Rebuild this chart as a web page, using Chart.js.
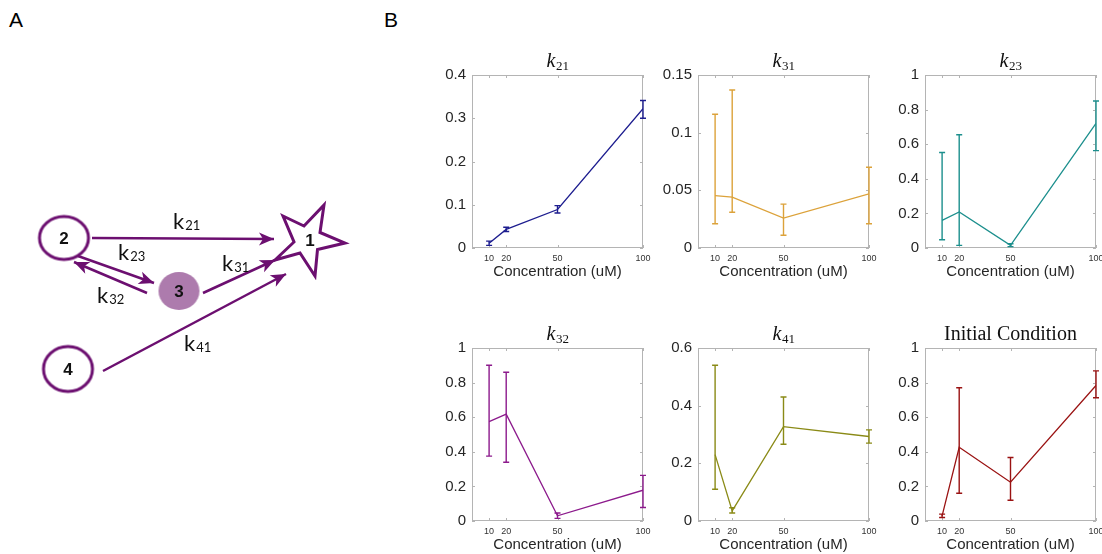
<!DOCTYPE html>
<html>
<head>
<meta charset="utf-8">
<script src="https://cdn.jsdelivr.net/npm/chart.js@4.4.1/dist/chart.umd.min.js"></script>
<style>
  body { margin: 0; width: 1102px; height: 554px; overflow: hidden; background: #fff; position: relative; }
  canvas { position: absolute; }
  .panel-letter { position: absolute; font: 21px "Liberation Sans", Arial, sans-serif; color: #000; }
</style>
</head>
<body>
<div class="panel-letter" style="left:9px;top:8px">A</div>
<div class="panel-letter" style="left:384px;top:8px">B</div>
<canvas id="diagram" width="380" height="554" style="left:0;top:0"></canvas>
<canvas id="c0"></canvas>
<canvas id="c1"></canvas>
<canvas id="c2"></canvas>
<canvas id="c3"></canvas>
<canvas id="c4"></canvas>
<canvas id="c5"></canvas>
<script>
// ---- data ----
const conc = [10, 20, 50, 100];
const xTicks = [10, 20, 50, 100];

const k21 = [0.011, 0.043, 0.089, 0.322];
const k21Low = [0.006, 0.038, 0.081, 0.300];
const k21High = [0.016, 0.048, 0.098, 0.341];

const k31 = [0.0455, 0.0441, 0.026, 0.047];
const k31Low = [0.021, 0.031, 0.011, 0.021];
const k31High = [0.116, 0.137, 0.038, 0.070];

const k23 = [0.16, 0.208, 0.015, 0.72];
const k23Low = [0.048, 0.015, 0.008, 0.563];
const k23High = [0.552, 0.655, 0.025, 0.85];

const k32 = [0.574, 0.618, 0.03, 0.178];
const k32Low = [0.375, 0.34, 0.015, 0.078];
const k32High = [0.9, 0.86, 0.046, 0.264];

const k41 = [0.23, 0.035, 0.327, 0.293];
const k41Low = [0.11, 0.028, 0.266, 0.27];
const k41High = [0.54, 0.046, 0.43, 0.316];

const initCond = [0.03, 0.426, 0.224, 0.783];
const initLow = [0.02, 0.16, 0.12, 0.712];
const initHigh = [0.04, 0.77, 0.367, 0.868];

const ticksK21 = [0, 0.1, 0.2, 0.3, 0.4];
const ticksK31 = [0, 0.05, 0.1, 0.15];
const ticksUnit = [0, 0.2, 0.4, 0.6, 0.8, 1];
const ticksK41 = [0, 0.2, 0.4, 0.6];

const titles = ['k21', 'k31', 'k23', 'k32', 'k41', 'Initial Condition'];

// diagram (panel A)
const nodeNames = ['2', '3', '4', '1'];
const nodeX = [64, 179, 68, 310];
const nodeY = [238, 291, 369, 240];
const edgeNames = ['21', '23', '32', '31', '41'];
const edgeFromX = [92, 78, 147, 203, 103];
const edgeFromY = [238, 256, 293, 293, 371];
const edgeToX = [274, 154, 74, 275, 286];
const edgeToY = [239, 283, 262, 260, 274];
const edgeLabelX = [173, 118, 97, 222, 184];
const edgeLabelY = [229, 260, 303, 271, 351];

// ---- small charts ----
const panels = [
  { vals: k21, lo: k21Low, hi: k21High, yMax: 0.4, yTicks: ticksK21, color: '#1d1d8f', left: 472, top: 75 },
  { vals: k31, lo: k31Low, hi: k31High, yMax: 0.15, yTicks: ticksK31, color: '#dca23a', left: 698, top: 75 },
  { vals: k23, lo: k23Low, hi: k23High, yMax: 1, yTicks: ticksUnit, color: '#1c8f8d', left: 925, top: 75 },
  { vals: k32, lo: k32Low, hi: k32High, yMax: 1, yTicks: ticksUnit, color: '#8c1a8c', left: 472, top: 348 },
  { vals: k41, lo: k41Low, hi: k41High, yMax: 0.6, yTicks: ticksK41, color: '#8a8a16', left: 698, top: 348 },
  { vals: initCond, lo: initLow, hi: initHigh, yMax: 1, yTicks: ticksUnit, color: '#9a1212', left: 925, top: 348 }
];

const plotW = 171, plotH = 173, axisW = 50, padTop = 40, padRight = 16, axisH = 36;

// box round the plot with small inward ticks on all sides
const frame = {
  id: 'frame',
  beforeDatasetsDraw(chart) {
    const { ctx, chartArea: a, scales: { x, y } } = chart;
    ctx.save();
    ctx.strokeStyle = '#b4b4b4';
    ctx.lineWidth = 1;
    ctx.strokeRect(Math.round(a.left) + 0.5, Math.round(a.top) + 0.5, Math.round(a.width) - 1, Math.round(a.height) - 1);
    ctx.beginPath();
    x.ticks.forEach(t => {
      const px = Math.round(x.getPixelForValue(t.value)) + 0.5;
      ctx.moveTo(px, a.bottom); ctx.lineTo(px, a.bottom - 3);
      ctx.moveTo(px, a.top); ctx.lineTo(px, a.top + 3);
    });
    y.ticks.forEach(t => {
      const py = Math.round(y.getPixelForValue(t.value)) + 0.5;
      ctx.moveTo(a.left, py); ctx.lineTo(a.left + 3, py);
      ctx.moveTo(a.right, py); ctx.lineTo(a.right - 3, py);
    });
    ctx.stroke();
    ctx.restore();
  }
};

const errorBars = {
  id: 'errorBars',
  afterDatasetsDraw(chart) {
    const { ctx, scales: { x, y } } = chart;
    const ds = chart.data.datasets[0];
    ctx.save();
    ctx.strokeStyle = ds.borderColor;
    ctx.lineWidth = 1.4;
    ds.data.forEach((p, i) => {
      const px = x.getPixelForValue(p.x);
      const top = y.getPixelForValue(ds.errHigh[i]);
      const bot = y.getPixelForValue(ds.errLow[i]);
      ctx.beginPath();
      ctx.moveTo(px, top); ctx.lineTo(px, bot);
      ctx.moveTo(px - 3, top); ctx.lineTo(px + 3, top);
      ctx.moveTo(px - 3, bot); ctx.lineTo(px + 3, bot);
      ctx.stroke();
    });
    ctx.restore();
  }
};

// LaTeX-like title: italic k with a subscript, or plain serif text
const texTitle = {
  id: 'texTitle',
  afterDraw(chart, args, opts) {
    const { ctx, chartArea: a } = chart;
    const text = opts.text;
    const m = /^k(\d+)$/.exec(text);
    const cx = (a.left + a.right) / 2;
    const base = a.top - 8;
    ctx.save();
    ctx.fillStyle = '#111';
    ctx.textBaseline = 'alphabetic';
    ctx.textAlign = 'left';
    if (m) {
      const mainFont = 'italic 20px "Liberation Serif", serif';
      const subFont = '13px "Liberation Serif", serif';
      ctx.font = mainFont;
      const w1 = ctx.measureText('k').width;
      ctx.font = subFont;
      const w2 = ctx.measureText(m[1]).width;
      const x0 = cx - (w1 + w2) / 2;
      ctx.font = mainFont;
      ctx.fillText('k', x0, base);
      ctx.font = subFont;
      ctx.fillText(m[1], x0 + w1 + 0.5, base + 3);
    } else {
      ctx.font = '20px "Liberation Serif", serif';
      ctx.textAlign = 'center';
      ctx.fillText(text, cx, base);
    }
    ctx.restore();
  }
};

panels.forEach((p, i) => {
  const canvas = document.getElementById('c' + i);
  canvas.width = axisW + plotW + padRight;
  canvas.height = padTop + plotH + axisH;
  canvas.style.left = (p.left - axisW) + 'px';
  canvas.style.top = (p.top - padTop) + 'px';

  new Chart(canvas, {
    type: 'line',
    data: {
      datasets: [{
        data: conc.map((c, j) => ({ x: c, y: p.vals[j] })),
        borderColor: p.color,
        borderWidth: 1.3,
        pointRadius: 0,
        tension: 0,
        errLow: p.lo,
        errHigh: p.hi
      }]
    },
    options: {
      responsive: false,
      animation: false,
      events: [],
      layout: { autoPadding: false, padding: { top: padTop, right: padRight, left: 0, bottom: 0 } },
      plugins: {
        legend: { display: false },
        tooltip: { enabled: false },
        texTitle: { text: titles[i] }
      },
      scales: {
        x: {
          type: 'linear',
          min: 0,
          max: 100,
          afterBuildTicks: s => { s.ticks = xTicks.map(v => ({ value: v })); },
          afterFit: s => { s.height = axisH; },
          grid: { display: false, drawTicks: false },
          border: { display: false },
          ticks: {
            font: { family: '"Liberation Sans", Arial', size: 9 },
            color: '#333',
            padding: 5,
            maxRotation: 0,
            autoSkip: false,
            callback: v => String(v)
          },
          title: {
            display: true,
            text: 'Concentration (uM)',
            font: { family: '"Liberation Sans", Arial', size: 15 },
            color: '#262626',
            padding: { top: 0, bottom: 3 }
          }
        },
        y: {
          type: 'linear',
          min: 0,
          max: p.yMax,
          afterBuildTicks: s => { s.ticks = p.yTicks.map(v => ({ value: v })); },
          afterFit: s => { s.width = axisW; },
          grid: { display: false, drawTicks: false },
          border: { display: false },
          ticks: {
            font: { family: '"Liberation Sans", Arial', size: 15 },
            color: '#262626',
            padding: 6,
            autoSkip: false,
            callback: v => String(v)
          }
        }
      }
    },
    plugins: [frame, errorBars, texTitle]
  });
});

// ---- panel A: reaction diagram ----
const purple = '#6c0f70';

function ellipseImage(rx, ry, fill, stroke) {
  const c = document.createElement('canvas');
  c.width = Math.ceil(rx * 2 + 6);
  c.height = Math.ceil(ry * 2 + 6);
  const g = c.getContext('2d');
  g.beginPath();
  g.ellipse(c.width / 2, c.height / 2, rx, ry, 0, 0, Math.PI * 2);
  g.fillStyle = fill;
  g.fill();
  if (stroke) {
    g.lineWidth = 3;
    g.strokeStyle = stroke;
    g.stroke();
  }
  return c;
}

function starImage() {
  const pts = [[-27, -24], [-6, -14], [14, -35], [10, -7.5], [35, 3], [7.5, 9.5], [5, 36], [-10, 13], [-35, 20], [-16, 2]];
  const c = document.createElement('canvas');
  c.width = 80; c.height = 80;
  const g = c.getContext('2d');
  g.beginPath();
  pts.forEach(([px, py], k) => (k ? g.lineTo(40 + px, 40 + py) : g.moveTo(40 + px, 40 + py)));
  g.closePath();
  g.fillStyle = '#fff';
  g.fill();
  g.lineWidth = 3;
  g.lineJoin = 'miter';
  g.strokeStyle = purple;
  g.stroke();
  return c;
}

const nodeStyles = [
  ellipseImage(24.5, 21.5, '#fff', purple),
  ellipseImage(20.5, 19, '#ad7bad', null),
  ellipseImage(24.5, 22.5, '#fff', purple),
  starImage()
];

const arrowHeads = {
  id: 'arrowHeads',
  afterDatasetsDraw(chart) {
    const { ctx } = chart;
    chart.data.datasets.forEach((ds, i) => {
      if (!ds.edge) return;
      const pts = chart.getDatasetMeta(i).data;
      const a = pts[0], b = pts[1];
      const ang = Math.atan2(b.y - a.y, b.x - a.x);
      ctx.save();
      ctx.translate(b.x, b.y);
      ctx.rotate(ang);
      ctx.beginPath();
      ctx.moveTo(0, 0);
      ctx.lineTo(-15, -6.5);
      ctx.lineTo(-11, 0);
      ctx.lineTo(-15, 6.5);
      ctx.closePath();
      ctx.fillStyle = purple;
      ctx.fill();
      ctx.restore();
    });
  }
};

const diagramLabels = {
  id: 'diagramLabels',
  afterDraw(chart) {
    const { ctx, scales: { x, y } } = chart;
    ctx.save();
    ctx.fillStyle = '#111';
    ctx.textAlign = 'center';
    ctx.textBaseline = 'middle';
    ctx.font = 'bold 17px "Liberation Sans", Arial';
    nodeNames.forEach((n, k) => {
      ctx.fillText(n, x.getPixelForValue(nodeX[k]), y.getPixelForValue(nodeY[k]) + 1);
    });
    ctx.textAlign = 'left';
    ctx.textBaseline = 'alphabetic';
    edgeNames.forEach((n, k) => {
      const px = x.getPixelForValue(edgeLabelX[k]);
      const py = y.getPixelForValue(edgeLabelY[k]);
      ctx.font = '22px Lato, "Liberation Sans", sans-serif';
      ctx.fillText('k', px, py);
      const w = ctx.measureText('k').width;
      ctx.font = '13px Lato, "Liberation Sans", sans-serif';
      ctx.fillText(n, px + w + 1, py + 1);
    });
    ctx.restore();
  }
};

const edgeSets = edgeNames.map((n, k) => ({
  edge: true,
  data: [{ x: edgeFromX[k], y: edgeFromY[k] }, { x: edgeToX[k], y: edgeToY[k] }],
  showLine: true,
  borderColor: purple,
  borderWidth: 2.5,
  pointRadius: 0
}));

new Chart(document.getElementById('diagram'), {
  type: 'scatter',
  data: {
    datasets: [
      ...edgeSets,
      {
        data: nodeNames.map((n, k) => ({ x: nodeX[k], y: nodeY[k] })),
        pointStyle: nodeStyles,
        pointRadius: 20,
        showLine: false
      }
    ]
  },
  options: {
    responsive: false,
    animation: false,
    events: [],
    layout: { autoPadding: false, padding: 0 },
    plugins: { legend: { display: false }, tooltip: { enabled: false } },
    scales: {
      x: { type: 'linear', min: 0, max: 380, display: false },
      y: { type: 'linear', min: 0, max: 554, reverse: true, display: false }
    }
  },
  plugins: [arrowHeads, diagramLabels]
});
</script>
</body>
</html>
